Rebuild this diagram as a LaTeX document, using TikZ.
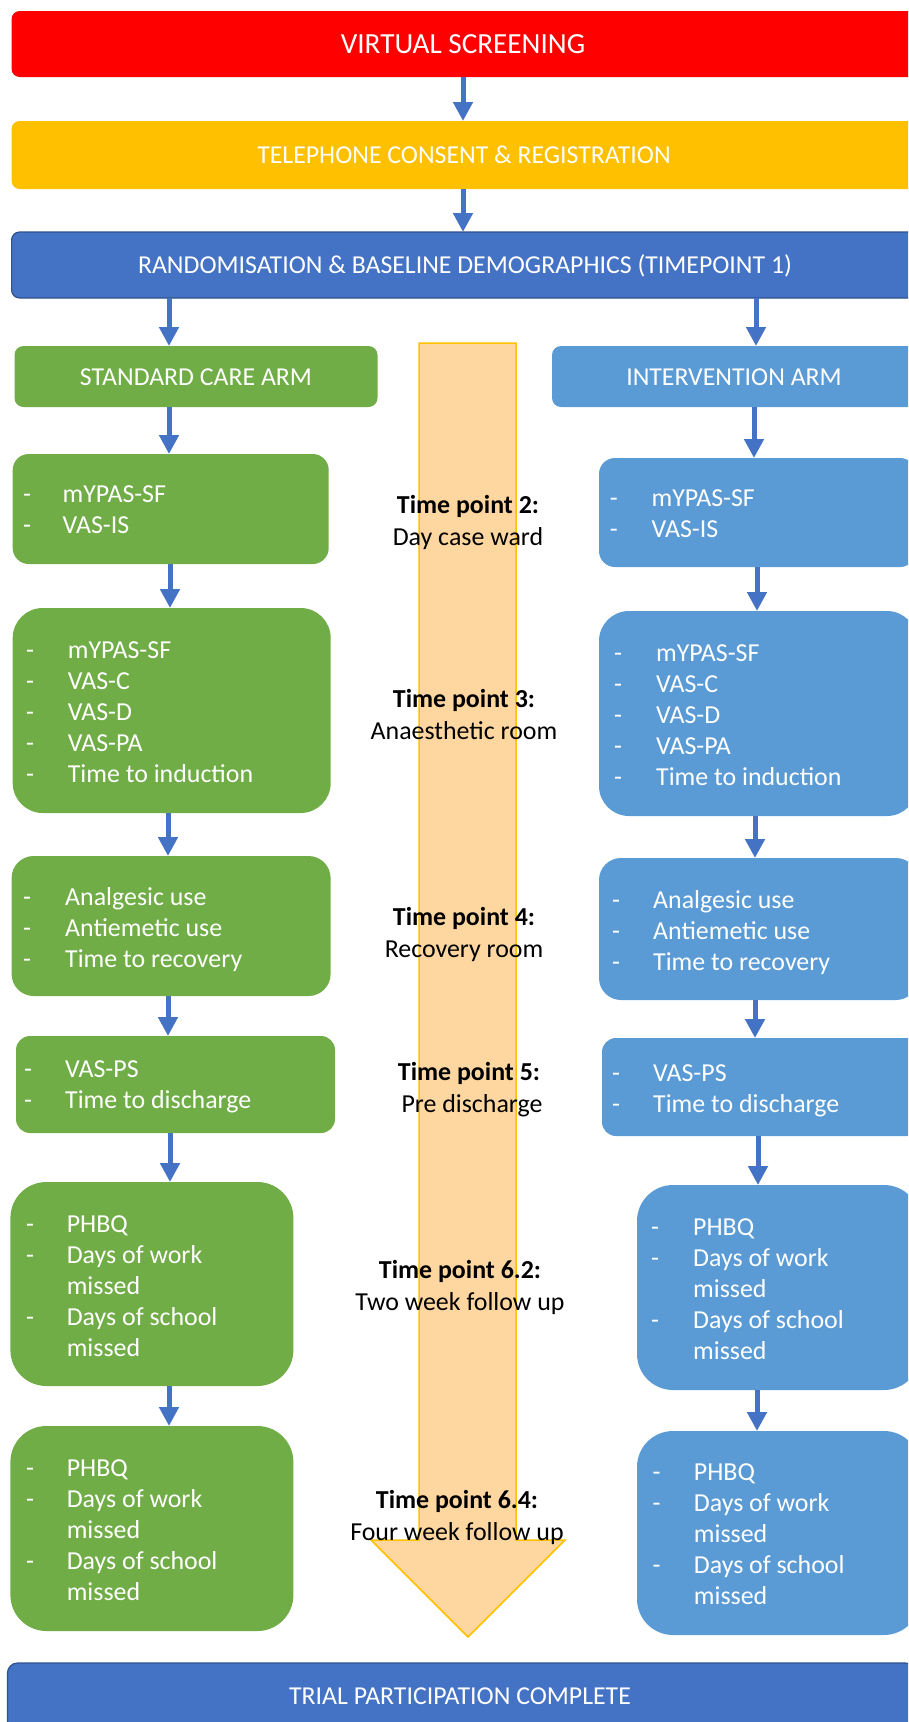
\documentclass[tikz,border=0pt]{standalone}
\usepackage{fontspec}
\setmainfont{Carlito}
\usetikzlibrary{arrows.meta}
\definecolor{cRed}{RGB}{255,0,0}
\definecolor{cGold}{RGB}{255,192,0}
\definecolor{cBlue}{RGB}{68,114,196}
\definecolor{cBlueDk}{RGB}{47,82,143}
\definecolor{cGreen}{RGB}{112,173,71}
\definecolor{cLBlue}{RGB}{91,155,213}
\definecolor{cPeach}{RGB}{253,214,160}
\newcommand\Lst[5]{\node[lst] (#1) at (#2-3,#4) {\begin{tabular}[t]{@{}p{\dimexpr#3pt-#2pt+3pt\relax}@{}l@{}}#5\end{tabular}};}
\newcommand\TP[5]{\node[tplab] (#1) at (#2,#3) {\begin{tabular}[t]{@{}c@{}}\textbf{#4}\\#5\end{tabular}};}
\begin{document}
\begin{tikzpicture}[x=1pt,y=-1pt,
  box/.style={anchor=north west, inner sep=0pt, outer sep=0pt, draw=none},
  arr/.style={draw=cBlue, line width=5pt, -{Triangle[length=19pt,width=19pt]}},
  lst/.style={anchor=base west, inner sep=0pt, text=white, font=\fontsize{25.9}{31}\selectfont},
  hdr/.style={anchor=base, inner sep=0pt, text=white, font=\fontsize{25.8}{31}\selectfont},
  tplab/.style={anchor=base, inner sep=0pt, text=black, font=\fontsize{25.9}{32}\selectfont}]
\useasboundingbox (0,0) rectangle (908,1722);
\clip (0,0) rectangle (908,1722);
% header boxes
\node[box, fill=cRed, rounded corners=8pt, minimum width=904pt, minimum height=66pt] (vs) at (11.6,11) {};
\node[box, fill=cGold, rounded corners=8pt, minimum width=904pt, minimum height=68pt] (tc) at (11.6,121) {};
\node[box, fill=cBlue, draw=cBlueDk, line width=1.2pt, rounded corners=8pt, minimum width=904pt, minimum height=66pt] (rb) at (11.6,232) {};
\node[box, fill=cGreen, rounded corners=9pt, minimum width=363pt, minimum height=61pt] (sa) at (14.5,346) {};
\node[box, fill=cLBlue, rounded corners=9pt, minimum width=364pt, minimum height=61pt] (ia) at (552,346) {};
% orange time arrow
\path[fill=cPeach, draw=cGold, line width=1.5pt] (419,343) -- (516,343) -- (516,1540) -- (565,1540) -- (468,1637) -- (371,1540) -- (419,1540) -- cycle;
% arm boxes
\node[box, fill=cGreen, rounded corners=16pt, minimum width=316pt, minimum height=110pt] (g2) at (12.7,454) {};
\node[box, fill=cLBlue, rounded corners=16pt, minimum width=317pt, minimum height=109pt] (b2) at (599,458) {};
\node[box, fill=cGreen, rounded corners=30pt, minimum width=318pt, minimum height=205pt] (g3) at (12.7,608) {};
\node[box, fill=cLBlue, rounded corners=30pt, minimum width=318pt, minimum height=205pt] (b3) at (599,611) {};
\node[box, fill=cGreen, rounded corners=22pt, minimum width=319pt, minimum height=140pt] (g4) at (11.6,856) {};
\node[box, fill=cLBlue, rounded corners=22pt, minimum width=319pt, minimum height=142pt] (b4) at (599,858) {};
\node[box, fill=cGreen, rounded corners=14pt, minimum width=319pt, minimum height=97pt] (g5) at (16,1036) {};
\node[box, fill=cLBlue, rounded corners=14pt, minimum width=319pt, minimum height=98pt] (b5) at (602,1038) {};
\node[box, fill=cGreen, rounded corners=36pt, minimum width=283pt, minimum height=204pt] (g6) at (10.4,1182) {};
\node[box, fill=cLBlue, rounded corners=36pt, minimum width=283pt, minimum height=205pt] (b6) at (637,1185) {};
\node[box, fill=cGreen, rounded corners=36pt, minimum width=283pt, minimum height=205pt] (g7) at (10.4,1426) {};
\node[box, fill=cLBlue, rounded corners=36pt, minimum width=283pt, minimum height=204pt] (b7) at (637,1431) {};
\node[box, fill=cBlue, draw=cBlueDk, line width=1.2pt, rounded corners=10pt, minimum width=908pt, minimum height=72pt] (tp) at (7.5,1663) {};
% header texts
\node[hdr, font=\fontsize{29.2}{34}\selectfont] (vst) at (463,53.3) {VIRTUAL SCREENING};
\node[hdr] (tct) at (464,163) {TELEPHONE CONSENT \& REGISTRATION};
\node[hdr] (rbt) at (465,273) {RANDOMISATION \& BASELINE DEMOGRAPHICS (TIMEPOINT 1)};
\node[hdr] (sat) at (196,385) {STANDARD CARE ARM};
\node[hdr] (iat) at (734,385) {INTERVENTION ARM};
\node[hdr] (tpt) at (460,1704) {TRIAL PARTICIPATION COMPLETE};
% lists
\Lst{g2t}{26}{62.5}{502}{- & mYPAS-SF\\ - & VAS-IS}
\Lst{b2t}{612.6}{651.4}{506}{- & mYPAS-SF\\ - & VAS-IS}
\Lst{g3t}{29}{67.7}{658}{- & mYPAS-SF\\ - & VAS-C\\ - & VAS-D\\ - & VAS-PA\\ - & Time to induction}
\Lst{b3t}{617}{656}{661}{- & mYPAS-SF\\ - & VAS-C\\ - & VAS-D\\ - & VAS-PA\\ - & Time to induction}
\Lst{g4t}{26}{65}{905}{- & Analgesic use\\ - & Antiemetic use\\ - & Time to recovery}
\Lst{b4t}{615}{653}{908}{- & Analgesic use\\ - & Antiemetic use\\ - & Time to recovery}
\Lst{g5t}{27}{65}{1077}{- & VAS-PS\\ - & Time to discharge}
\Lst{b5t}{615}{653}{1081}{- & VAS-PS\\ - & Time to discharge}
\Lst{g6t}{29}{66.6}{1232}{- & PHBQ\\ - & Days of work\\ & missed\\ - & Days of school\\ & missed}
\Lst{b6t}{654}{693}{1235}{- & PHBQ\\ - & Days of work\\ & missed\\ - & Days of school\\ & missed}
\Lst{g7t}{29}{66.6}{1476}{- & PHBQ\\ - & Days of work\\ & missed\\ - & Days of school\\ & missed}
\Lst{b7t}{655.5}{693.7}{1480}{- & PHBQ\\ - & Days of work\\ & missed\\ - & Days of school\\ & missed}
% time point labels
\TP{t2}{468}{513}{Time point 2:}{Day case ward}
\TP{t3}{464}{707}{Time point 3:}{Anaesthetic room}
\TP{t4}{464}{925}{Time point 4:}{Recovery room}
\TP{t5}{469}{1080}{Time point 5:}{\hspace*{6pt}Pre discharge}
\TP{t6}{460}{1278}{Time point 6.2:}{Two week follow up}
\TP{t7}{457}{1508}{Time point 6.4:}{Four week follow up}
% connectors
\draw[arr] (vs.south -| 463,0) -- (tc.north -| 463,0);
\draw[arr] (tc.south -| 463,0) -- (rb.north -| 463,0);
\draw[arr] (rb.south -| 169,0) -- (sa.north -| 169,0);
\draw[arr] (rb.south -| 756,0) -- (ia.north -| 756,0);
\draw[arr] (sa.south -| 169,0) -- (g2.north -| 169,0);
\draw[arr] (ia.south -| 754,0) -- (b2.north -| 754,0);
\draw[arr] (g2.south -| 170,0) -- (g3.north -| 170,0);
\draw[arr] (b2.south -| 757,0) -- (b3.north -| 757,0);
\draw[arr] (g3.south -| 168,0) -- (g4.north -| 168,0);
\draw[arr] (b3.south -| 755,0) -- (b4.north -| 755,0);
\draw[arr] (g4.south -| 168,0) -- (g5.north -| 168,0);
\draw[arr] (b4.south -| 755,0) -- (b5.north -| 755,0);
\draw[arr] (g5.south -| 170,0) -- (g6.north -| 170,0);
\draw[arr] (b5.south -| 758,0) -- (b6.north -| 758,0);
\draw[arr] (g6.south -| 169,0) -- (g7.north -| 169,0);
\draw[arr] (b6.south -| 757,0) -- (b7.north -| 757,0);
\end{tikzpicture}
\end{document}
